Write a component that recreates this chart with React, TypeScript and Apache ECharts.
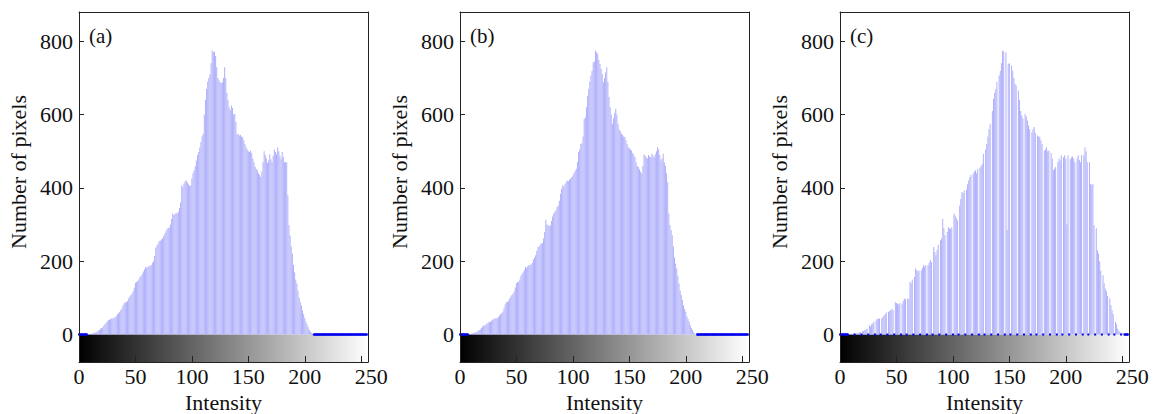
import React, { useEffect, useRef } from 'react';
import * as echarts from 'echarts';

// ---- data ----
const panelLabels = ['(a)', '(b)', '(c)'];
const xTickLabels = [0, 50, 100, 150, 200, 250];
const xTickMarks = [50, 100, 150, 200, 250];
const yTickLabels = [0, 200, 400, 600, 800];
const yTickMarks = [200, 400, 600, 800];
const xAxisTitle = 'Intensity';
const yAxisTitle = 'Number of pixels';
const intensityMax = 256;
const countMin = -75;
const countMax = 880;

// histogram counts, index = intensity 0..255
const aCounts = [
  0, 0, 0, 0, 0, 0, 0, 0,
  1, 1, 2, 2, 3, 4, 5, 6,
  8, 10, 12, 16, 18, 20, 24, 28,
  32, 36, 39, 40, 42, 44, 44, 46,
  48, 50, 55, 58, 62, 66, 72, 80,
  85, 89, 88, 92, 98, 104, 108, 112,
  118, 128, 141, 143, 145, 150, 158, 159,
  165, 172, 178, 184, 182, 184, 188, 186,
  190, 196, 200, 215, 237, 242, 248, 255,
  256, 259, 262, 268, 275, 282, 288, 291,
  291, 300, 315, 330, 326, 328, 332, 330,
  335, 345, 360, 407, 402, 412, 418, 420,
  415, 410, 405, 407, 425, 440, 448, 460,
  475, 490, 498, 510, 525, 540, 548, 600,
  640, 670, 690, 700, 710, 740, 775, 770,
  772, 760, 730, 700, 693, 688, 686, 688,
  700, 729, 700, 660, 640, 620, 612, 625,
  618, 600, 602, 580, 545, 548, 543, 545,
  540, 538, 530, 520, 511, 505, 500, 498,
  502, 495, 480, 470, 458, 452, 448, 440,
  436, 430, 445, 470, 500, 490, 480, 468,
  475, 492, 478, 470, 488, 505, 498, 492,
  510, 500, 488, 478, 498, 485, 470, 470,
  470, 380, 298, 270, 240, 221, 190, 170,
  150, 139, 120, 100, 89, 80, 66, 55,
  45, 35, 28, 20, 12, 8, 4, 2,
  0, 0, 0, 0, 0, 0, 0, 0,
  0, 0, 0, 0, 0, 0, 0, 0,
  0, 0, 0, 0, 0, 0, 0, 0,
  0, 0, 0, 0, 0, 0, 0, 0,
  0, 0, 0, 0, 0, 0, 0, 0,
  0, 0, 0, 0, 0, 0, 0, 0,
];

const bCounts = [
  0, 0, 0, 0, 0, 0, 0, 0,
  1, 1, 2, 3, 4, 5, 6, 7,
  10, 12, 14, 18, 22, 25, 24, 28,
  30, 32, 35, 34, 38, 40, 42, 44,
  45, 44, 48, 52, 56, 58, 62, 72,
  82, 89, 88, 92, 98, 104, 108, 112,
  118, 128, 140, 143, 144, 150, 160, 166,
  170, 176, 184, 182, 186, 190, 189, 192,
  196, 205, 210, 216, 228, 239, 240, 245,
  248, 250, 262, 280, 313, 300, 298, 296,
  298, 310, 322, 330, 335, 340, 348, 352,
  365, 384, 398, 407, 404, 410, 416, 420,
  418, 422, 426, 430, 434, 440, 446, 452,
  470, 498, 505, 520, 522, 540, 588, 593,
  620, 650, 670, 690, 707, 720, 743, 745,
  775, 770, 766, 750, 738, 725, 710, 688,
  700, 715, 729, 690, 648, 620, 600, 575,
  590, 605, 616, 600, 575, 560, 555, 548,
  545, 540, 539, 530, 520, 511, 508, 505,
  502, 495, 490, 484, 470, 460, 457, 450,
  445, 439, 460, 491, 488, 484, 480, 490,
  486, 484, 493, 488, 484, 492, 500, 511,
  505, 490, 475, 480, 493, 470, 460, 440,
  416, 330, 298, 285, 271, 240, 210, 193,
  180, 160, 139, 120, 108, 94, 80, 70,
  62, 50, 42, 35, 25, 18, 12, 6,
  3, 1, 0, 0, 0, 0, 0, 0,
  0, 0, 0, 0, 0, 0, 0, 0,
  0, 0, 0, 0, 0, 0, 0, 0,
  0, 0, 0, 0, 0, 0, 0, 0,
  0, 0, 0, 0, 0, 0, 0, 0,
  0, 0, 0, 0, 0, 0, 0, 0,
];

const cCounts = [
  0, 0, 0, 0, 0, 0, 0, 0, 1, 1,
  2, 2, 3, 0, 3, 4, 5, 6, 7, 0,
  9, 10, 12, 14, 16, 0, 25, 22, 28, 30,
  35, 0, 38, 44, 42, 44, 0, 44, 48, 52,
  55, 60, 0, 62, 64, 66, 70, 66, 0, 89,
  86, 84, 82, 86, 0, 84, 92, 98, 96, 0,
  98, 96, 143, 140, 150, 0, 157, 180, 176, 172,
  175, 0, 175, 182, 189, 186, 189, 0, 190, 196,
  203, 198, 0, 239, 225, 216, 230, 245, 0, 257,
  262, 316, 290, 271, 0, 280, 293, 290, 288, 293,
  0, 330, 325, 318, 312, 0, 352, 370, 389, 385,
  393, 0, 395, 410, 420, 430, 435, 0, 439, 445,
  448, 440, 452, 0, 455, 460, 466, 493, 0, 505,
  520, 540, 560, 575, 0, 610, 643, 660, 670, 690,
  0, 707, 720, 740, 775, 772, 0, 770, 285, 738,
  740, 0, 734, 720, 700, 684, 680, 0, 666, 640,
  610, 598, 590, 0, 602, 595, 584, 570, 560, 0,
  552, 560, 566, 550, 0, 543, 540, 539, 530, 520,
  0, 502, 505, 511, 500, 502, 0, 495, 480, 448,
  452, 457, 0, 470, 480, 475, 489, 0, 484, 489,
  480, 300, 489, 0, 478, 484, 486, 480, 470, 0,
  480, 489, 476, 470, 490, 0, 489, 511, 500, 470,
  0, 470, 411, 408, 411, 298, 0, 290, 230, 221,
  200, 175, 0, 162, 140, 125, 118, 105, 0, 98,
  80, 66, 55, 0, 35, 28, 16, 10, 7, 0,
  5, 3, 0, 0, 0, 0,
];

const panels = [aCounts, bCounts, cCounts];

export default function App() {
  const ref = useRef<HTMLDivElement>(null);

  useEffect(() => {
    if (!ref.current) return;
    const chart = echarts.init(ref.current, null, { renderer: 'svg' });
    const FONT = 'Liberation Serif';
    const INK = '#111';
    const FRAME = '#222';
    const lefts = [79, 460, 840];
    const plotW = 289;
    const plotH = 350;
    const top = 12;

    const grid: any[] = [];
    const xAxis: any[] = [];
    const yAxis: any[] = [];
    const series: any[] = [];
    const graphic: any[] = [];

    lefts.forEach((left, k) => {
      grid.push({ left, top, width: plotW, height: plotH, show: false, containLabel: false, outerBoundsMode: 'none' });
      const frameLine = { show: true, onZero: false, lineStyle: { color: FRAME, width: 1 } };
      // bottom x axis
      xAxis.push({
        type: 'value', gridIndex: k, min: 0, max: intensityMax, position: 'bottom', z: 10,
        axisLine: frameLine,
        axisTick: { show: true, inside: true, length: 6, customValues: xTickMarks, lineStyle: { color: FRAME, width: 1 } },
        axisLabel: {
          show: true, customValues: xTickLabels, margin: 3,
          fontFamily: FONT, fontSize: 22, color: INK,
          formatter: (v: number) => (v === 250 ? '{r|250}' : String(v)),
          rich: { r: { padding: [0, 0, 0, 20], fontFamily: FONT, fontSize: 22, color: INK } },
        },
        splitLine: { show: false },
        name: xAxisTitle, nameLocation: 'middle', nameGap: 27,
        nameTextStyle: { fontFamily: FONT, fontSize: 22, color: INK },
      });
      // top frame
      xAxis.push({
        type: 'value', gridIndex: k, min: 0, max: intensityMax, position: 'top', z: 10,
        axisLine: frameLine, axisTick: { show: false }, axisLabel: { show: false }, splitLine: { show: false },
      });
      // left y axis
      yAxis.push({
        type: 'value', gridIndex: k, min: countMin, max: countMax, position: 'left', z: 10,
        axisLine: frameLine,
        axisTick: { show: true, inside: true, length: 5, customValues: yTickMarks, lineStyle: { color: FRAME, width: 1 } },
        axisLabel: { show: true, customValues: yTickLabels, margin: 6, fontFamily: FONT, fontSize: 22, color: INK },
        splitLine: { show: false },
        name: yAxisTitle, nameLocation: 'middle', nameGap: 50,
        nameTextStyle: { fontFamily: FONT, fontSize: 22, color: INK, padding: [0, 0, 0, 30] },
      });
      // right frame
      yAxis.push({
        type: 'value', gridIndex: k, min: countMin, max: countMax, position: 'right', z: 10,
        axisLine: frameLine, axisTick: { show: false }, axisLabel: { show: false }, splitLine: { show: false },
      });

      const xi = 2 * k;
      const yi = 2 * k;
      const counts = panels[k];

      // grayscale intensity bar below zero
      series.push({
        type: 'custom', xAxisIndex: xi, yAxisIndex: yi, z: 1, silent: true,
        data: [[0, 0]],
        renderItem: (_p: any, api: any) => {
          const a = api.coord([0, 0]);
          const b = api.coord([intensityMax, countMin]);
          return {
            type: 'rect',
            shape: { x: a[0], y: a[1], width: b[0] - a[0], height: b[1] - a[1] },
            style: {
              fill: new echarts.graphic.LinearGradient(0, 0, 1, 0, [
                { offset: 0, color: '#000000' },
                { offset: 1, color: '#ffffff' },
              ]),
            },
          };
        },
      });
      // histogram stems
      series.push({
        type: 'bar', xAxisIndex: xi, yAxisIndex: yi, z: 2, barWidth: 0.8,
        data: counts.map((v, i) => [i, v]),
        itemStyle: { color: '#b0b0fb' },
      });
      // zero-count baseline
      series.push({
        type: 'line', xAxisIndex: xi, yAxisIndex: yi, z: 3,
        data: counts.map((v, i) => [i, v === 0 ? 0 : '-']),
        connectNulls: false,
        lineStyle: { color: '#0000ee', width: 2 },
        itemStyle: { color: '#0000ee' },
        symbol: 'rect', symbolSize: 2, showSymbol: true,
      });

      graphic.push({
        type: 'text', left: left + 10, top: 25, z: 20,
        style: { text: panelLabels[k], font: `21px "${FONT}"`, fill: INK },
      });
    });

    chart.setOption({
      animation: false,
      backgroundColor: '#ffffff',
      textStyle: { fontFamily: FONT },
      grid, xAxis, yAxis, series, graphic,
    });

    return () => chart.dispose();
  }, []);

  return (
    <div
      ref={ref}
      style={{ position: 'fixed', left: 0, top: 0, width: 1156, height: 414, background: '#fff' }}
    />
  );
}
